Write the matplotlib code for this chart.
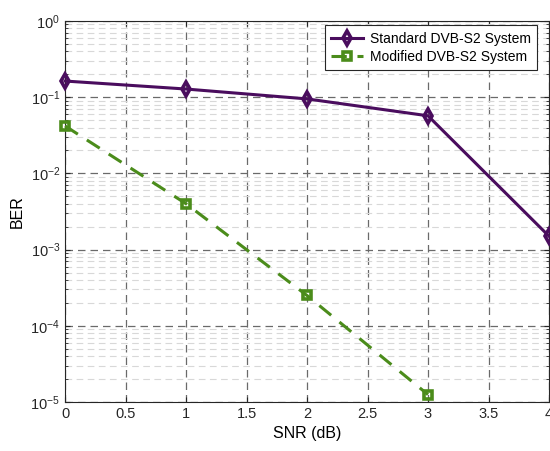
import numpy as np
import matplotlib
matplotlib.use("Agg")
import matplotlib.pyplot as plt
from matplotlib.ticker import LogLocator, NullFormatter

plt.rcParams['font.family'] = ['Liberation Sans', 'DejaVu Sans']

snr = [0, 1, 2, 3, 4]
ber_standard = [0.163, 0.128, 0.095, 0.057, 0.0015]
snr_mod = [0, 1, 2, 3]
ber_modified = [0.042, 0.004, 0.00025, 1.25e-5]

fig = plt.figure(figsize=(5.5, 4.51), dpi=100)
ax = fig.add_axes([65/550, 49/451, 484/550, 381/451])

ax.semilogy(snr, ber_standard, color='#4a0d5e', lw=2.2, marker='d', ms=7,
            mfc='none', mew=2.6, label='Standard DVB-S2 System', clip_on=False, zorder=5)
ax.semilogy(snr_mod, ber_modified, color='#4b8c1b', lw=2.2, ls=(0, (5, 3.5)), marker='s', ms=5.5,
            mfc='none', mew=2.6, label='Modified DVB-S2 System', clip_on=False, zorder=5)

ax.set_xlim(0, 4)
ax.set_ylim(1e-5, 1)
ax.set_xticks(np.arange(0, 4.01, 0.5))
ax.set_xticklabels(['0', '0.5', '1', '1.5', '2', '2.5', '3', '3.5', '4'])
ax.yaxis.set_major_locator(LogLocator(base=10, numticks=10))
ax.yaxis.set_minor_locator(LogLocator(base=10, subs=np.arange(2, 10), numticks=100))
ax.yaxis.set_minor_formatter(NullFormatter())

ax.grid(True, which='major', ls=(0, (6, 4)), color='#6a6a6a', lw=0.9)
ax.grid(True, which='minor', axis='y', ls=(0, (6, 4)), color='#d8d8d8', lw=0.8)
ax.set_axisbelow(True)

ax.tick_params(which='both', direction='in', top=True, right=True, labelsize=10.5, colors='#262626')
ax.tick_params(which='minor', length=2)
for s in ax.spines.values():
    s.set_color('#262626')
    s.set_linewidth(0.8)

ax.set_xlabel('SNR (dB)', fontsize=11.5)
ax.set_ylabel('BER', fontsize=11.5)

leg = ax.legend(loc='upper right', fontsize=10, fancybox=False, edgecolor='#262626',
                framealpha=1, borderpad=0.45, handlelength=2.3, handletextpad=0.5,
                labelspacing=0.3, bbox_to_anchor=(0.99, 1.007))
leg.get_frame().set_linewidth(0.8)

fig.savefig('out.png', dpi=100)
